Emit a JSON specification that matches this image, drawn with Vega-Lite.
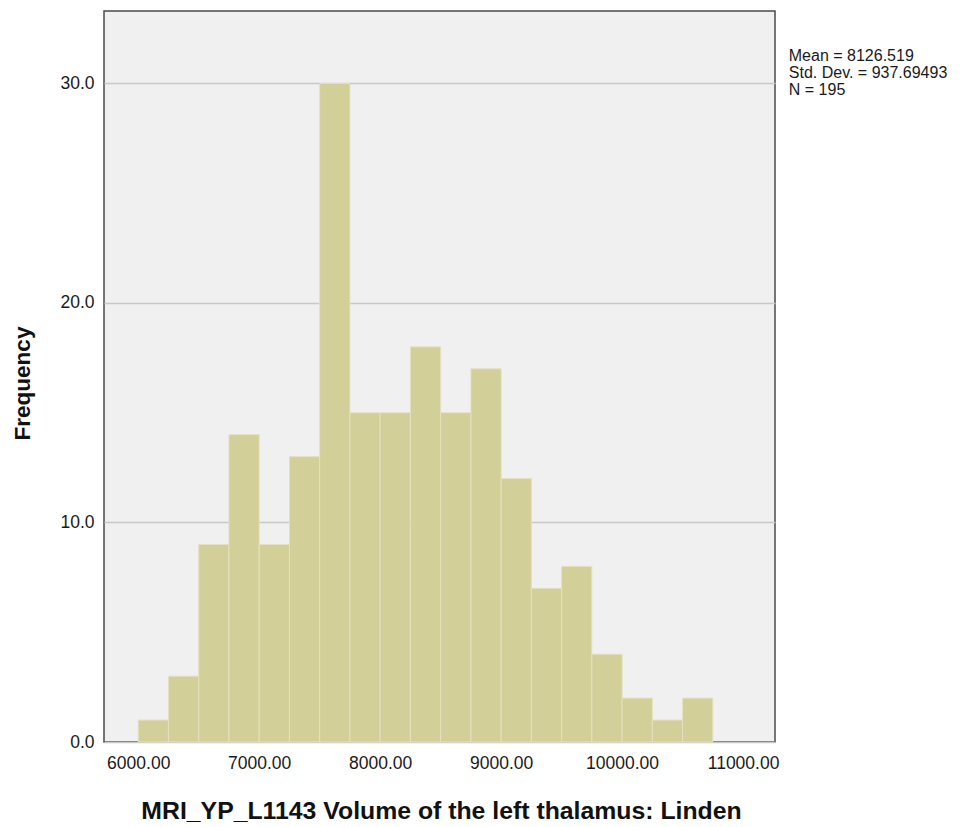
{
  "$schema": "https://vega.github.io/schema/vega-lite/v6.json",
  "width": 671,
  "height": 731,
  "autosize": {"type": "none"},
  "padding": {"left": 104, "top": 11, "right": 198, "bottom": 85},
  "background": "white",
  "config": {
    "font": "Liberation Sans",
    "view": {"fill": "#f0f0f0", "stroke": "#4a4a4a", "strokeWidth": 1.5}
  },
  "layer": [
    {
      "data": {
        "values": [
          {"bin_start": 6000, "bin_end": 6250, "count": 1},
          {"bin_start": 6250, "bin_end": 6500, "count": 3},
          {"bin_start": 6500, "bin_end": 6750, "count": 9},
          {"bin_start": 6750, "bin_end": 7000, "count": 14},
          {"bin_start": 7000, "bin_end": 7250, "count": 9},
          {"bin_start": 7250, "bin_end": 7500, "count": 13},
          {"bin_start": 7500, "bin_end": 7750, "count": 30},
          {"bin_start": 7750, "bin_end": 8000, "count": 15},
          {"bin_start": 8000, "bin_end": 8250, "count": 15},
          {"bin_start": 8250, "bin_end": 8500, "count": 18},
          {"bin_start": 8500, "bin_end": 8750, "count": 15},
          {"bin_start": 8750, "bin_end": 9000, "count": 17},
          {"bin_start": 9000, "bin_end": 9250, "count": 12},
          {"bin_start": 9250, "bin_end": 9500, "count": 7},
          {"bin_start": 9500, "bin_end": 9750, "count": 8},
          {"bin_start": 9750, "bin_end": 10000, "count": 4},
          {"bin_start": 10000, "bin_end": 10250, "count": 2},
          {"bin_start": 10250, "bin_end": 10500, "count": 1},
          {"bin_start": 10500, "bin_end": 10750, "count": 2}
        ]
      },
      "mark": {"type": "bar", "fill": "#d3cf98", "stroke": "#e4e1bf", "strokeWidth": 1},
      "encoding": {
        "x": {
          "field": "bin_start",
          "type": "quantitative",
          "scale": {"domain": [5717, 11264], "nice": false, "zero": false},
          "axis": {
            "values": [6000, 7000, 8000, 9000, 10000, 11000],
            "format": ".2f",
            "grid": false,
            "ticks": false,
            "domain": false,
            "labelFontSize": 17.5,
            "labelColor": "#1a1a1a",
            "labelPadding": 12,
            "title": "MRI_YP_L1143 Volume of the left thalamus: Linden",
            "titleFontSize": 24.8,
            "titleFontWeight": "bold",
            "titleColor": "#111111",
            "titleX": 337,
            "titleY": 76,
            "titleAlign": "center",
            "titleBaseline": "alphabetic"
          }
        },
        "x2": {"field": "bin_end"},
        "y": {
          "field": "count",
          "type": "quantitative",
          "scale": {"domain": [0, 33.3], "nice": false},
          "axis": {
            "values": [0, 10, 20, 30],
            "format": ".1f",
            "grid": true,
            "gridColor": "#c8c8c8",
            "gridWidth": 1.5,
            "ticks": false,
            "domain": false,
            "labelFontSize": 17.5,
            "labelColor": "#1a1a1a",
            "labelPadding": 10,
            "title": "Frequency",
            "titleFontSize": 22.5,
            "titleFontWeight": "bold",
            "titleColor": "#111111",
            "titleAngle": -90,
            "titleX": -75,
            "titleY": 372,
            "titleAlign": "center",
            "titleBaseline": "alphabetic"
          }
        },
        "y2": {"datum": 0}
      }
    },
    {
      "data": {
        "values": [
          {"label": "Mean = 8126.519", "pos": 31.27},
          {"label": "Std. Dev. = 937.69493", "pos": 30.49},
          {"label": "N = 195", "pos": 29.71}
        ]
      },
      "mark": {"type": "text", "align": "left", "baseline": "middle", "fontSize": 16, "color": "#1a1a1a", "font": "Liberation Sans"},
      "encoding": {
        "x": {"datum": 11378, "type": "quantitative"},
        "y": {"field": "pos", "type": "quantitative"},
        "text": {"field": "label", "type": "nominal"}
      }
    }
  ]
}
